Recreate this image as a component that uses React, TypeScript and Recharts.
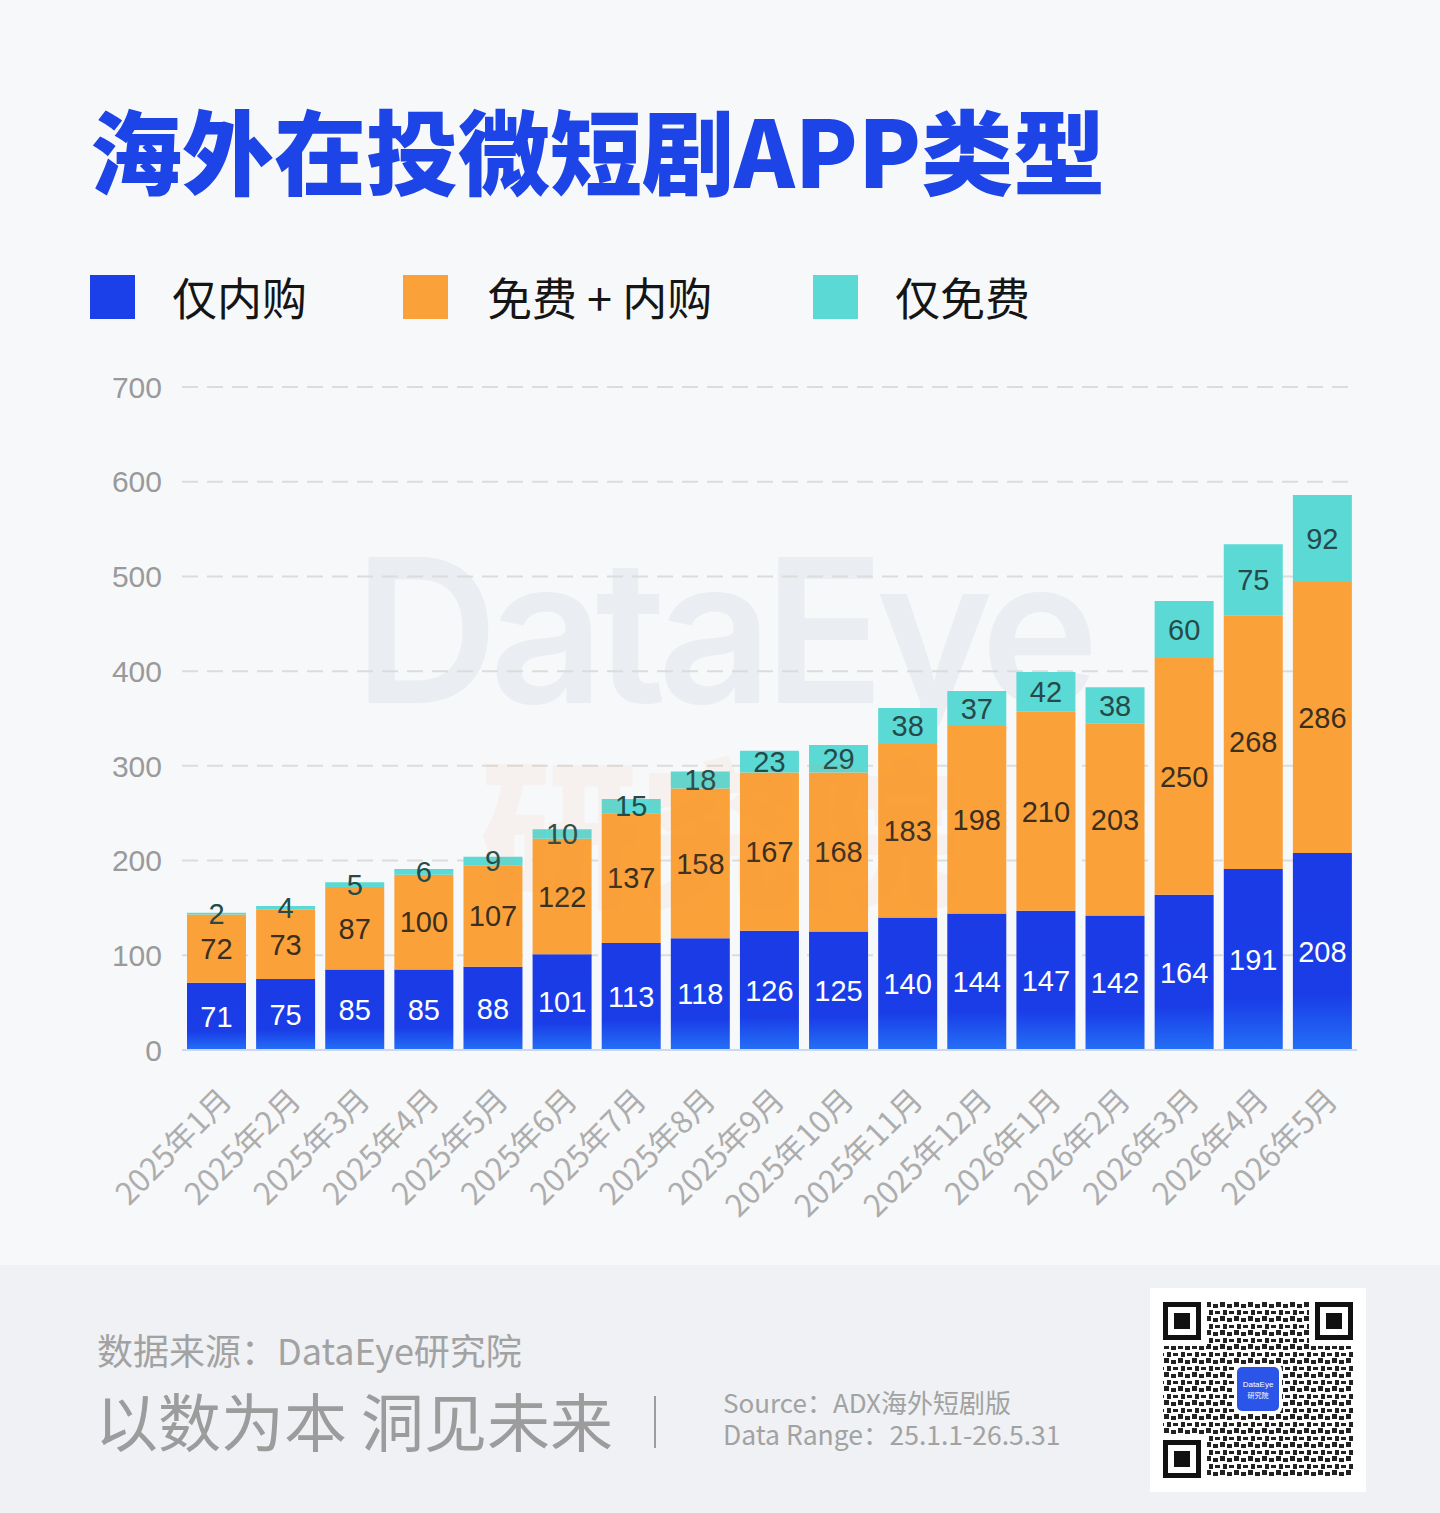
import React from "react";
import { BarChart, Bar, XAxis, YAxis, CartesianGrid, LabelList } from "recharts";

const months = [
  "2025年1月", "2025年2月", "2025年3月", "2025年4月", "2025年5月", "2025年6月",
  "2025年7月", "2025年8月", "2025年9月", "2025年10月", "2025年11月", "2025年12月",
  "2026年1月", "2026年2月", "2026年3月", "2026年4月", "2026年5月",
];
const iapOnly = [71, 75, 85, 85, 88, 101, 113, 118, 126, 125, 140, 144, 147, 142, 164, 191, 208];
const hybrid = [72, 73, 87, 100, 107, 122, 137, 158, 167, 168, 183, 198, 210, 203, 250, 268, 286];
const freeOnly = [2, 4, 5, 6, 9, 10, 15, 18, 23, 29, 38, 37, 42, 38, 60, 75, 92];
const yTicks = [0, 100, 200, 300, 400, 500, 600, 700];

const legendItems = [
  { name: "仅内购", color: "#1b3fe8", left: 90, textLeft: 172 },
  { name: "免费 + 内购", color: "#fba13a", left: 403, textLeft: 487 },
  { name: "仅免费", color: "#5bd9d4", left: 813, textLeft: 895 },
];

const data = months.map((m, i) => ({
  month: m,
  iap: iapOnly[i],
  hybrid: hybrid[i],
  free: freeOnly[i],
}));

const numFont = "'Liberation Sans', Arial, sans-serif";
const cjk = "'Noto Sans CJK SC', 'Noto Sans', sans-serif";

const MonthTick = (props: any) => {
  const { x, y, payload } = props;
  return (
    <g transform={`translate(${x + 17},${y + 50})`}>
      <text
        transform="rotate(-45)"
        textAnchor="end"
        fontSize={31}
        fill="#adadad"
        fontFamily={cjk}
      >
        {payload.value}
      </text>
    </g>
  );
};

const QrBox = () => {
  const finder = (x: number, y: number) => (
    <g>
      <rect x={x} y={y} width={38} height={38} fill="#111" />
      <rect x={x + 5} y={y + 5} width={28} height={28} fill="#fff" />
      <rect x={x + 11} y={y + 11} width={16} height={16} fill="#111" />
    </g>
  );
  return (
    <svg width={216} height={204} style={{ position: "absolute", left: 1150, top: 1288 }}>
      <defs>
        <pattern id="qrTex" width="14" height="14" patternUnits="userSpaceOnUse">
          <rect width="14" height="14" fill="#fff" />
          <rect x="0" y="0" width="5" height="5" fill="#222" />
          <rect x="7" y="2" width="5" height="4" fill="#222" />
          <rect x="3" y="8" width="4" height="5" fill="#222" />
          <rect x="9" y="9" width="5" height="3" fill="#222" />
        </pattern>
      </defs>
      <rect width={216} height={204} fill="#fff" />
      <rect x={13} y={14} width={190} height={176} fill="url(#qrTex)" />
      <rect x={13} y={14} width={44} height={44} fill="#fff" />
      <rect x={159} y={14} width={44} height={44} fill="#fff" />
      <rect x={13} y={146} width={44} height={44} fill="#fff" />
      {finder(13, 14)}
      {finder(165, 14)}
      {finder(13, 152)}
      <rect x={84} y={76} width={48} height={50} rx={6} fill="#fff" />
      <rect x={87} y={79} width={42} height={44} rx={5} fill="#2a55e8" />
      <text x={108} y={99} textAnchor="middle" fontSize={8} fill="#fff" fontFamily={numFont}>DataEye</text>
      <text x={108} y={110} textAnchor="middle" fontSize={7} fill="#fff" fontFamily={cjk}>研究院</text>
    </svg>
  );
};

export default function App() {
  return (
    <div
      style={{
        position: "relative",
        width: 1440,
        height: 1513,
        background: "#f7f8fa",
        overflow: "hidden",
        fontFamily: cjk,
      }}
    >
      <style>{`body{margin:0}`}</style>

      <div
        style={{
          position: "absolute",
          left: 90,
          top: 88,
          fontSize: 92,
          fontWeight: 900,
          color: "#1d44e6",
          lineHeight: "120px",
          whiteSpace: "nowrap",
        }}
      >
        海外在投微短剧APP类型
      </div>

      {legendItems.map((it) => (
        <React.Fragment key={it.name}>
          <div
            style={{
              position: "absolute",
              left: it.left,
              top: 275,
              width: 45,
              height: 44,
              background: it.color,
            }}
          />
          <div
            style={{
              position: "absolute",
              left: it.textLeft,
              top: 270,
              fontSize: 45,
              lineHeight: "54px",
              color: "#151515",
              whiteSpace: "nowrap",
            }}
          >
            {it.name}
          </div>
        </React.Fragment>
      ))}

      <div
        style={{
          position: "absolute",
          left: 354,
          top: 520,
          fontSize: 200,
          fontWeight: 600,
          fontFamily: "Inter, sans-serif",
          color: "#eaedf2",
          letterSpacing: -9,
          lineHeight: "220px",
          whiteSpace: "nowrap",
        }}
      >
        DataEye
      </div>

      <div style={{ position: "absolute", left: 0, top: 360 }}>
        <BarChart
          width={1440}
          height={900}
          data={data}
          margin={{ top: 27, right: 83, left: 122, bottom: 40 }}
          barCategoryGap={5}
        >
          <defs>
            <linearGradient id="blueGrad" x1="0" y1="0" x2="0" y2="1">
              <stop offset="0%" stopColor="#1a3be6" />
              <stop offset="72%" stopColor="#1a3de8" />
              <stop offset="100%" stopColor="#2470f6" />
            </linearGradient>
          </defs>
          <CartesianGrid vertical={false} stroke="#dcdcdc" strokeWidth={2} strokeDasharray="16 9" />
          <YAxis
            width={60}
            domain={[0, 700]}
            ticks={yTicks}
            axisLine={false}
            tickLine={false}
            tickSize={0}
            tickMargin={20}
            tick={{ fontSize: 30, fill: "#9a9a9a", fontFamily: numFont }}
          />
          <XAxis
            dataKey="month"
            interval={0}
            height={170}
            tickLine={false}
            tickSize={0}
            axisLine={{ stroke: "#cdd8ee", strokeWidth: 2 }}
            tick={<MonthTick />}
          />
          <Bar dataKey="iap" stackId="a" fill="url(#blueGrad)" isAnimationActive={false}>
            <LabelList dataKey="iap" position="center" fill="#ffffff" fontSize={29} fontFamily={numFont} />
          </Bar>
          <Bar dataKey="hybrid" stackId="a" fill="#fba13a" isAnimationActive={false}>
            <LabelList dataKey="hybrid" position="center" fill="#3a2e1f" fontSize={29} fontFamily={numFont} />
          </Bar>
          <Bar dataKey="free" stackId="a" fill="#5bd9d4" isAnimationActive={false}>
            <LabelList dataKey="free" position="center" fill="#264a4a" fontSize={29} fontFamily={numFont} />
          </Bar>
        </BarChart>
      </div>

      <div
        style={{
          position: "absolute",
          left: 480,
          top: 740,
          fontSize: 160,
          fontWeight: 900,
          color: "rgba(245,150,80,0.07)",
          lineHeight: "170px",
          whiteSpace: "nowrap",
          pointerEvents: "none",
        }}
      >
        研究院
      </div>

      <div
        style={{
          position: "absolute",
          left: 0,
          top: 1265,
          width: 1440,
          height: 248,
          background: "#eff1f4",
        }}
      />
      <div
        style={{
          position: "absolute",
          left: 97,
          top: 1325,
          fontSize: 36,
          lineHeight: "48px",
          color: "#a2a2a2",
          whiteSpace: "nowrap",
        }}
      >
        数据来源：DataEye研究院
      </div>
      <div
        style={{
          position: "absolute",
          left: 95,
          top: 1379,
          fontSize: 63,
          lineHeight: "80px",
          color: "#9c9c9c",
          whiteSpace: "nowrap",
        }}
      >
        以数为本 洞见未来
      </div>
      <div
        style={{
          position: "absolute",
          left: 654,
          top: 1396,
          width: 2,
          height: 52,
          background: "#9c9c9c",
        }}
      />
      <div
        style={{
          position: "absolute",
          left: 723,
          top: 1386,
          fontSize: 26,
          lineHeight: "32px",
          color: "#a2a2a2",
          whiteSpace: "nowrap",
        }}
      >
        Source：ADX海外短剧版
      </div>
      <div
        style={{
          position: "absolute",
          left: 723,
          top: 1418,
          fontSize: 26.5,
          lineHeight: "32px",
          color: "#a2a2a2",
          whiteSpace: "nowrap",
        }}
      >
        Data Range：25.1.1-26.5.31
      </div>
      <QrBox />
    </div>
  );
}
